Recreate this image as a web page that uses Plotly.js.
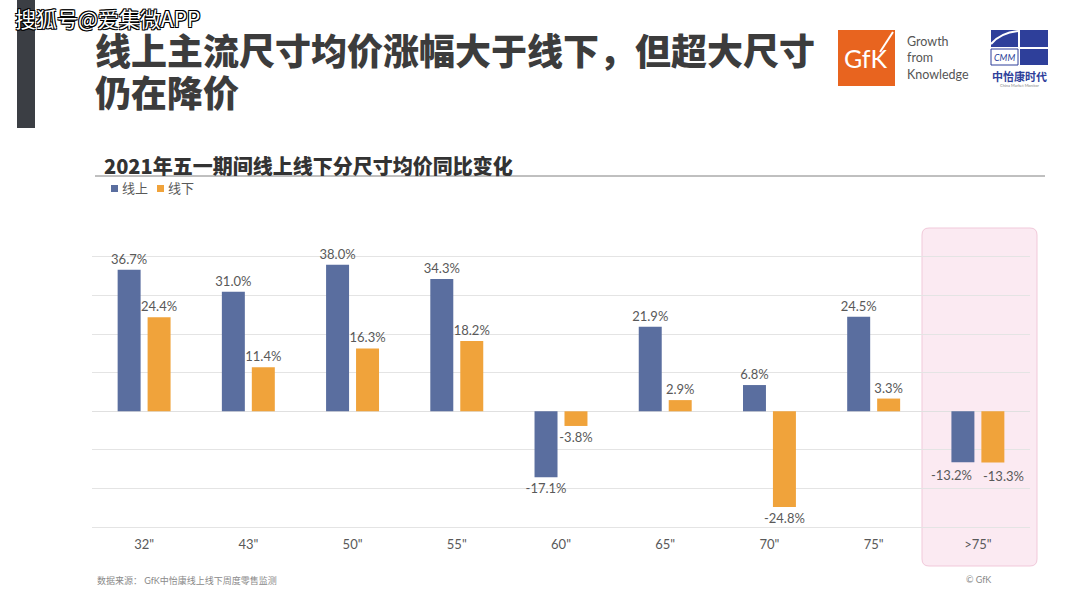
<!DOCTYPE html>
<html>
<head>
<meta charset="utf-8">
<script src="https://cdn.plot.ly/plotly-3.0.1.min.js"></script>
<style>html,body{margin:0;padding:0;background:#fff;}#chart{width:1080px;height:608px;}</style>
</head>
<body>
<div id="chart"></div>
<script>
const categories = ['32"', '43"', '50"', '55"', '60"', '65"', '70"', '75"', '>75"'];
const onlineValues = [36.7, 31.0, 38.0, 34.3, -17.1, 21.9, 6.8, 24.5, -13.2];
const offlineValues = [24.4, 11.4, 16.3, 18.2, -3.8, 2.9, -24.8, 3.3, -13.3];
const seriesNames = ['线上', '线下'];
const mainTitleLines = ['线上主流尺寸均价涨幅大于线下，但超大尺寸', '仍在降价'];
const chartTitle = '2021年五一期间线上线下分尺寸均价同比变化';
const sourceText = '数据来源： GfK中怡康线上线下周度零售监测';

const W = 1080, H = 608;
const L = 92, R = 1030, T = 255, B = 529;
const px = x => (x - L) / (R - L);
const py = y => (B - y) / (B - T);

const CJK = "Lato, 'Noto Sans CJK SC', sans-serif";
const HEAVY = "'Noto Sans CJK SC', sans-serif";
const BLUE = '#5a6e9f', ORANGE = '#f0a33b';
const LABEL_FONT = {family: CJK, size: 13, color: '#595959'};

const fmt = v => v.toFixed(1) + '%';
const last = categories.length - 1;
// labels drawn on the bars, except the crowded last group (drawn as offset annotations)
const onlineText = onlineValues.map((v, i) => i === last ? '' : fmt(v));
const offlineText = offlineValues.map((v, i) => i === last ? '' : fmt(v));

const traces = [
  {type: 'bar', name: seriesNames[0], x: categories, y: onlineValues, text: onlineText, texttemplate: '%{text}',
   marker: {color: BLUE}, textposition: 'outside', constraintext: 'none',
   cliponaxis: false, textfont: LABEL_FONT, hoverinfo: 'skip', showlegend: false},
  {type: 'bar', name: seriesNames[1], x: categories, y: offlineValues, text: offlineText, texttemplate: '%{text}',
   marker: {color: ORANGE}, textposition: 'outside', constraintext: 'none',
   cliponaxis: false, textfont: LABEL_FONT, hoverinfo: 'skip', showlegend: false}
];

// rounded highlight box
const bx0 = px(922), bx1 = px(1037), by0 = py(566), by1 = py(228);
const rx = 7 / (R - L), ry = 7 / (B - T);
const boxPath = `M ${bx0+rx},${by0} L ${bx1-rx},${by0} Q ${bx1},${by0} ${bx1},${by0+ry} L ${bx1},${by1-ry} Q ${bx1},${by1} ${bx1-rx},${by1} L ${bx0+rx},${by1} Q ${bx0},${by1} ${bx0},${by1-ry} L ${bx0},${by0+ry} Q ${bx0},${by0} ${bx0+rx},${by0} Z`;

const rectPx = (x0, y0, x1, y1, fill, line) => ({type: 'rect', xref: 'paper', yref: 'paper',
  x0: px(x0), x1: px(x1), y0: py(y1), y1: py(y0), fillcolor: fill, line: line || {width: 0}});

const shapes = [
  {type: 'path', xref: 'paper', yref: 'paper', path: boxPath, fillcolor: '#fbeaf2', line: {color: '#f1c9da', width: 1}, layer: 'below'},
  rectPx(17, 0, 35, 128, '#3b3e44'),
  {type: 'line', xref: 'paper', yref: 'paper', x0: px(95), x1: px(1045), y0: py(176), y1: py(176), line: {color: '#808080', width: 1}},
  // legend swatches
  rectPx(111, 185, 118, 192, BLUE),
  rectPx(157, 185, 164, 192, ORANGE),
  // GfK logo
  rectPx(838, 30, 895, 86, '#e8641f'),
  {type: 'line', xref: 'paper', yref: 'paper', x0: px(880), x1: px(893), y0: py(52), y1: py(32), line: {color: '#ffffff', width: 2}},
  // CMM logo
  rectPx(991, 30, 1018, 47, '#2e3f9a'),
  rectPx(1020, 30, 1048, 47, '#2e3f9a'),
  rectPx(1020, 49, 1048, 65, '#2e3f9a'),
  rectPx(991, 49, 1018, 65, '#ffffff', {color: '#2e3f9a', width: 1}),
  {type: 'path', xref: 'paper', yref: 'paper', path: `M ${px(991)},${py(44)} Q ${px(1000)},${py(33)} ${px(1018)},${py(31)}`, line: {color: '#ffffff', width: 2}}
];

const ann = (x, y, text, size, color, opts = {}) => Object.assign({
  xref: 'paper', yref: 'paper', x: px(x), y: py(y), text: text, showarrow: false,
  xanchor: 'left', yanchor: 'middle', font: {family: CJK, size: size, color: color}
}, opts);

const annotations = [
  ann(93, 49, mainTitleLines[0], 36, '#3c3c3c', {font: {family: HEAVY, size: 36, color: '#3c3c3c', weight: 900}}),
  ann(93, 91, mainTitleLines[1], 36, '#3c3c3c', {font: {family: HEAVY, size: 36, color: '#3c3c3c', weight: 900}}),
  ann(13, 18, '搜狐号@爱集微APP', 21, '#ffffff', {font: {family: HEAVY, size: 21, color: '#ffffff',
    shadow: '1px 1px 0 #000, -1px -1px 0 #000, 1px -1px 0 #000, -1px 1px 0 #000, 0 1px 0 #000, 0 -1px 0 #000'}}),
  ann(102, 165, chartTitle, 20, '#333333', {font: {family: HEAVY, size: 20, color: '#333333', weight: 900}}),
  ann(120, 188, seriesNames[0], 13, '#595959'),
  ann(166, 188, seriesNames[1], 13, '#595959'),
  ann(95, 580, sourceText, 9, '#8a8a8a'),
  ann(964, 579, '© GfK', 9, '#8a8a8a'),
  ann(866, 58, 'GfK', 25, '#ffffff', {xanchor: 'center', font: {family: "Lato, sans-serif", size: 25, color: '#ffffff'}}),
  ann(905, 58, 'Growth<br>from<br>Knowledge', 12.5, '#555555', {align: 'left', font: {family: "Lato, sans-serif", size: 12.5, color: '#555555'}}),
  ann(1004, 57, '<i>CMM</i>', 9, '#2e3f9a', {xanchor: 'center', font: {family: "Lato, sans-serif", size: 9, color: '#2e3f9a'}}),
  ann(1019, 76, '<b>中怡康时代</b>', 11, '#2e3f9a', {xanchor: 'center', font: {family: HEAVY, size: 11, color: '#2e3f9a'}}),
  ann(1019, 86, 'China Market Monitor', 4, '#888888', {xanchor: 'center', font: {family: "Lato, sans-serif", size: 4, color: '#888888'}}),
  // last group labels, nudged apart (anchored on the data values)
  {xref: 'x', yref: 'y', x: categories[last], y: onlineValues[last], text: fmt(onlineValues[last]), showarrow: false,
   xanchor: 'center', yanchor: 'top', xshift: -26, yshift: -3, font: LABEL_FONT},
  {xref: 'x', yref: 'y', x: categories[last], y: offlineValues[last], text: fmt(offlineValues[last]), showarrow: false,
   xanchor: 'center', yanchor: 'top', xshift: 26, yshift: -3, font: LABEL_FONT}
];

const layout = {
  width: W, height: H,
  margin: {l: L, r: W - R, t: T, b: H - B, pad: 0},
  paper_bgcolor: '#ffffff', plot_bgcolor: 'rgba(0,0,0,0)',
  barmode: 'group', bargap: 0.425, bargroupgap: 0.233,
  showlegend: false,
  xaxis: {type: 'category', showgrid: false, showline: false, ticks: '', zeroline: false,
          tickfont: {family: CJK, size: 13, color: '#595959'}, ticklabelstandoff: 6, fixedrange: true},
  yaxis: {range: [-30.5, 40.5], dtick: 10, showgrid: true, gridcolor: '#e4e4e4', gridwidth: 1,
          zeroline: true, zerolinecolor: '#e0e0e0', zerolinewidth: 1, showticklabels: false, ticks: '', fixedrange: true},
  shapes: shapes,
  annotations: annotations
};

Plotly.newPlot('chart', traces, layout, {displayModeBar: false, staticPlot: true});
</script>
</body>
</html>
